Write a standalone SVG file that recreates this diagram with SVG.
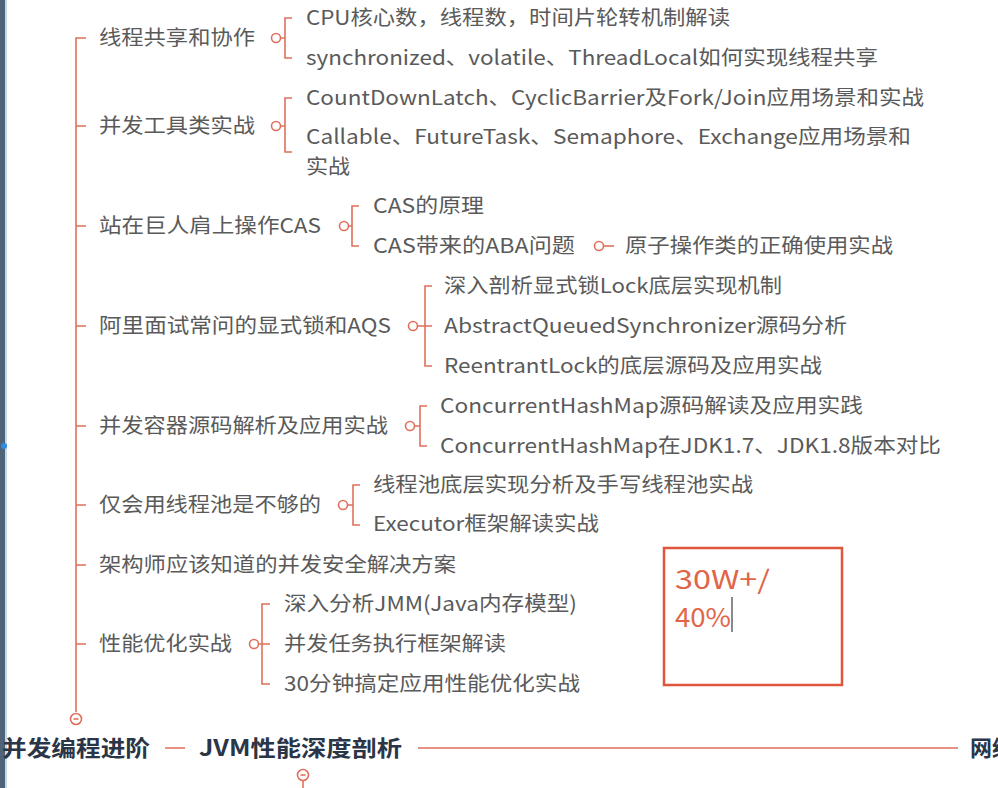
<svg xmlns="http://www.w3.org/2000/svg" width="998" height="788" viewBox="0 0 998 788">
<style>
.t{font-family:"Noto Sans CJK SC","Liberation Sans",sans-serif;font-size:20.5px;fill:#5a5a5a}
.b{font-family:"Noto Sans CJK SC","Liberation Sans",sans-serif;font-size:22px;font-weight:bold;fill:#2a3547}
.ln{stroke:#e0705c;stroke-width:1.6;fill:none}
.c{stroke:#e0705c;stroke-width:1.6;fill:#fff}
.r{font-family:"Noto Sans CJK SC","Liberation Sans",sans-serif;font-size:26px;fill:#e0664a}
</style>
<rect x="0" y="0" width="998" height="788" fill="#fff"/>
<rect x="0" y="0" width="5" height="788" fill="#4f6379"/>
<rect x="5" y="0" width="2" height="788" fill="#c9d6e3"/>
<circle cx="4" cy="446" r="3" fill="#2a8ee8"/>

<g id="connectors">
<path class="ln" d="M86 38 H76 V712"/>
<path class="ln" d="M76 126 H86 M76 226 H86 M76 326 H86 M76 426 H86 M76 505 H86 M76 565 H86 M76 644 H86"/>
<path class="ln" d="M281 38 H285 M292 18 H285 V58 H292"/>
<path class="ln" d="M281 126 H285 M292 98 H285 V152 H292"/>
<path class="ln" d="M349 226 H352 M359 206 H352 V246 H359"/>
<path class="ln" d="M604 246 H614"/>
<path class="ln" d="M418 326 H432 M432 286 H425 V366 H432"/>
<path class="ln" d="M415 426 H420 M427 406 H420 V446 H427"/>
<path class="ln" d="M348 505 H353 M360 485 H353 V525 H360"/>
<path class="ln" d="M259 644 H270 M270 604 H262 V684 H270"/>
<path class="ln" d="M165 748 H185 M418 748 H958"/>
<path class="ln" d="M303 780 V788"/>
</g>

<g id="collapse-markers">
<circle class="c" cx="276" cy="38" r="4.5"/>
<circle class="c" cx="276" cy="126" r="4.5"/>
<circle class="c" cx="344" cy="226" r="4.5"/>
<circle class="c" cx="599" cy="246" r="4.5"/>
<circle class="c" cx="413" cy="326" r="4.5"/>
<circle class="c" cx="410" cy="426" r="4.5"/>
<circle class="c" cx="343" cy="505" r="4.5"/>
<circle class="c" cx="254" cy="644" r="4.5"/>
<circle class="c" cx="76" cy="719" r="5.5"/>
<path class="ln" d="M73.5 719 H78.5" stroke-width="1"/>
<circle class="c" cx="303" cy="775" r="5.5"/>
<path class="ln" d="M300.5 775 H305.5" stroke-width="1"/>
</g>

<g id="n1"><text class="t" x="99" y="45" textLength="156" lengthAdjust="spacingAndGlyphs">线程共享和协作</text></g>
<g id="n1a"><text class="t" x="306" y="25" textLength="424" lengthAdjust="spacingAndGlyphs">CPU核心数，线程数，时间片轮转机制解读</text></g>
<g id="n1b"><text class="t" x="306" y="65" textLength="572" lengthAdjust="spacingAndGlyphs">synchronized、volatile、ThreadLocal如何实现线程共享</text></g>

<g id="n2"><text class="t" x="99" y="133" textLength="156" lengthAdjust="spacingAndGlyphs">并发工具类实战</text></g>
<g id="n2a"><text class="t" x="306" y="105" textLength="618" lengthAdjust="spacingAndGlyphs">CountDownLatch、CyclicBarrier及Fork/Join应用场景和实战</text></g>
<g id="n2b"><text class="t" x="306" y="144" textLength="605" lengthAdjust="spacingAndGlyphs">Callable、FutureTask、Semaphore、Exchange应用场景和</text><text class="t" x="306" y="174" textLength="44" lengthAdjust="spacingAndGlyphs">实战</text></g>

<g id="n3"><text class="t" x="99" y="233" textLength="222" lengthAdjust="spacingAndGlyphs">站在巨人肩上操作CAS</text></g>
<g id="n3a"><text class="t" x="373" y="213" textLength="111" lengthAdjust="spacingAndGlyphs">CAS的原理</text></g>
<g id="n3b"><text class="t" x="373" y="253" textLength="202" lengthAdjust="spacingAndGlyphs">CAS带来的ABA问题</text></g>
<g id="n3b1"><text class="t" x="625" y="253" textLength="268" lengthAdjust="spacingAndGlyphs">原子操作类的正确使用实战</text></g>

<g id="n4"><text class="t" x="99" y="333" textLength="292" lengthAdjust="spacingAndGlyphs">阿里面试常问的显式锁和AQS</text></g>
<g id="n4a"><text class="t" x="444" y="293" textLength="338" lengthAdjust="spacingAndGlyphs">深入剖析显式锁Lock底层实现机制</text></g>
<g id="n4b"><text class="t" x="444" y="333" textLength="403" lengthAdjust="spacingAndGlyphs">AbstractQueuedSynchronizer源码分析</text></g>
<g id="n4c"><text class="t" x="444" y="373" textLength="378" lengthAdjust="spacingAndGlyphs">ReentrantLock的底层源码及应用实战</text></g>

<g id="n5"><text class="t" x="99" y="433" textLength="289" lengthAdjust="spacingAndGlyphs">并发容器源码解析及应用实战</text></g>
<g id="n5a"><text class="t" x="440" y="413" textLength="423" lengthAdjust="spacingAndGlyphs">ConcurrentHashMap源码解读及应用实践</text></g>
<g id="n5b"><text class="t" x="440" y="453" textLength="501" lengthAdjust="spacingAndGlyphs">ConcurrentHashMap在JDK1.7、JDK1.8版本对比</text></g>

<g id="n6"><text class="t" x="99" y="512" textLength="222" lengthAdjust="spacingAndGlyphs">仅会用线程池是不够的</text></g>
<g id="n6a"><text class="t" x="373" y="492" textLength="380" lengthAdjust="spacingAndGlyphs">线程池底层实现分析及手写线程池实战</text></g>
<g id="n6b"><text class="t" x="373" y="531" textLength="226" lengthAdjust="spacingAndGlyphs">Executor框架解读实战</text></g>

<g id="n7"><text class="t" x="99" y="572" textLength="357" lengthAdjust="spacingAndGlyphs">架构师应该知道的并发安全解决方案</text></g>

<g id="n8"><text class="t" x="99" y="651" textLength="133" lengthAdjust="spacingAndGlyphs">性能优化实战</text></g>
<g id="n8a"><text class="t" x="284" y="611" textLength="293" lengthAdjust="spacingAndGlyphs">深入分析JMM(Java内存模型)</text></g>
<g id="n8b"><text class="t" x="284" y="651" textLength="222" lengthAdjust="spacingAndGlyphs">并发任务执行框架解读</text></g>
<g id="n8c"><text class="t" x="284" y="691" textLength="296" lengthAdjust="spacingAndGlyphs">30分钟搞定应用性能优化实战</text></g>

<g id="root1"><text class="b" x="2" y="756" textLength="148" lengthAdjust="spacingAndGlyphs">并发编程进阶</text></g>
<g id="root2"><text class="b" x="199" y="756" textLength="203" lengthAdjust="spacingAndGlyphs">JVM性能深度剖析</text></g>
<g id="root3"><text class="b" x="970" y="756">网络</text></g>

<g id="note">
<rect x="664" y="548" width="178" height="137" fill="#fff" stroke="#e0563c" stroke-width="2.5"/>
<text class="r" x="675" y="589" textLength="95" lengthAdjust="spacingAndGlyphs">30W+/</text>
<text class="r" x="675" y="627" textLength="56" lengthAdjust="spacingAndGlyphs">40%</text>
<rect x="731" y="597" width="2" height="35" fill="#8a8a8a"/>
</g>
</svg>
